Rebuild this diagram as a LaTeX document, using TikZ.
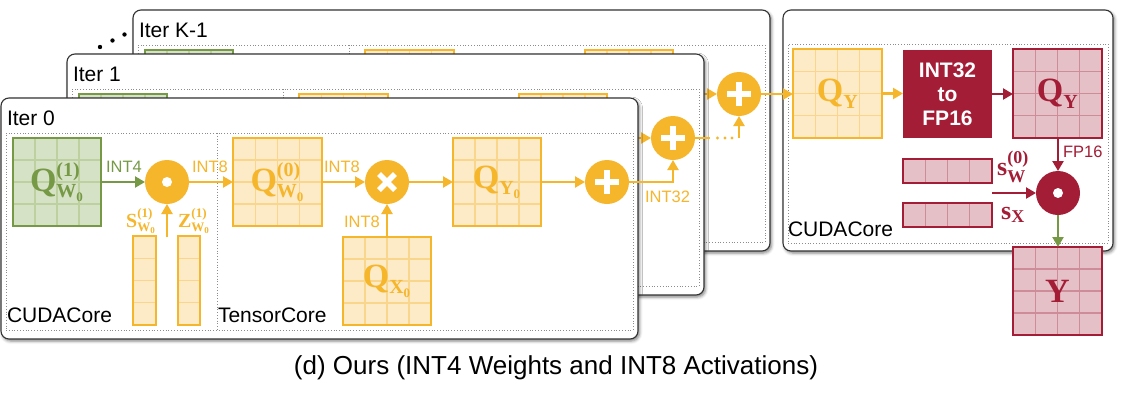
\documentclass[tikz,border=0pt]{standalone}
\usepackage{amsmath}
\usepackage{fontspec}
\setmainfont{Liberation Sans}
\newfontfamily\rmserif{Liberation Serif}
\usetikzlibrary{arrows.meta,calc,shadows.blur}
\definecolor{org}{RGB}{246,182,44}
\definecolor{orgfill}{RGB}{253,234,199}
\definecolor{orggrid}{RGB}{250,214,140}
\definecolor{grn}{RGB}{118,153,70}
\definecolor{grnfill}{RGB}{214,226,197}
\definecolor{grngrid}{RGB}{188,208,160}
\definecolor{dred}{RGB}{164,29,54}
\definecolor{redfill}{RGB}{229,192,199}
\definecolor{redgrid}{RGB}{206,140,152}
\DeclareMathSizes{34}{34}{20}{13}
\DeclareMathSizes{20}{20}{13}{9}
\DeclareMathSizes{26}{26}{18}{12}
\newcommand\sv[1]{\text{\rmserif\bfseries #1}}
\newcommand\bigQ{\fontsize{34}{36}\selectfont}
\newcommand\midS{\fontsize{20}{22}\selectfont}
\newcommand\smS{\fontsize{26}{28}\selectfont}
\newcommand\vlines[2]{\foreach \f in {0.25,0.5,0.75}{\draw[#2] ($(#1.north west)!\f!(#1.north east)$) -- ($(#1.south west)!\f!(#1.south east)$);}}
\newcommand\hlines[2]{\foreach \f in {0.25,0.5,0.75}{\draw[#2] ($(#1.north west)!\f!(#1.south west)$) -- ($(#1.north east)!\f!(#1.south east)$);}}
\newcommand\reborder[2]{\draw[#2] (#1.north west) rectangle (#1.south east);}
\newcommand\plussym[1]{\draw[white, line width=6pt] ($(#1)+(-12,0)$) -- ($(#1)+(12,0)$); \draw[white, line width=6pt] ($(#1)+(0,-12)$) -- ($(#1)+(0,12)$);}
\newcommand\crosssym[1]{\draw[white, line width=5.5pt] ($(#1)+(-8,-8)$) -- ($(#1)+(8,8)$); \draw[white, line width=5.5pt] ($(#1)+(-8,8)$) -- ($(#1)+(8,-8)$);}
\tikzset{
  every node/.style={inner sep=0pt, outer sep=0pt},
  panel/.style={draw=black!80, line width=1.1pt, fill=white, rounded corners=8pt,
    blur shadow={shadow xshift=1.5pt, shadow yshift=-2pt, shadow blur radius=3pt, shadow opacity=50}},
  dotbox/.style={draw=black!45, line width=0.8pt, dotted},
  dotline/.style={draw=black!45, line width=0.8pt, dotted},
  gcell/.style={draw=grn, fill=grnfill, line width=2.2pt},
  ocell/.style={draw=org, fill=orgfill, line width=2.2pt},
  rcell/.style={draw=dred, fill=redfill, line width=2.2pt},
  ggrid/.style={draw=grngrid, line width=1.4pt},
  ogrid/.style={draw=orggrid, line width=1.4pt},
  rgrid/.style={draw=redgrid, line width=1.4pt},
  gbord/.style={draw=grn, line width=2.2pt},
  obord/.style={draw=org, line width=2.2pt},
  rbord/.style={draw=dred, line width=2.2pt},
  ocirc/.style={circle, fill=org, minimum size=44pt},
  rcirc/.style={circle, fill=dred, minimum size=44pt},
  arrtip/.style={-{Triangle[length=10pt,width=11pt]}},
  oarr/.style={draw=org, line width=2.2pt, arrtip},
  garr/.style={draw=grn, line width=2.2pt, arrtip},
  rarr/.style={draw=dred, line width=2.2pt, arrtip},
  oline/.style={draw=org, line width=2.2pt},
  lbl/.style={font=\fontsize{16.5}{18}\selectfont},
  bigtxt/.style={font=\fontsize{21}{24}\selectfont},
}
\newcommand\panel[4]{%
\begin{scope}[shift={(#1,#2)}]
  \node[panel, minimum width=637pt, minimum height=241pt] (box#4) at (319.5,218.5) {};
  \node[dotbox, minimum width=627pt, minimum height=197pt] (in#4) at (319.5,231.5) {};
  \draw[dotline] (217,133) -- (217,330);
  \node[bigtxt, anchor=west] (lab#4) at (7,118) {#3};
  \node[bigtxt, anchor=west] (cuda#4) at (7,315) {CUDACore};
  \node[bigtxt, anchor=west] (tens#4) at (218,315) {TensorCore};
  % Q_W^(1)
  \node[gcell, minimum width=88pt, minimum height=88pt] (qw1#4) at (57,182) {};
  \vlines{qw1#4}{ggrid}\hlines{qw1#4}{ggrid}\reborder{qw1#4}{gbord}
  \node[text=grn, font=\bigQ] (qw1t#4) at (57,182) {$\sv{Q}^{\sv{(1)}}_{\sv{W}_{\sv{0}}}$};
  % odot
  \node[ocirc] (od#4) at (167,182) {};
  \fill[white] (od#4) circle (5pt);
  % S and Z columns
  \node[ocell, minimum width=23pt, minimum height=89pt] (sc#4) at (144.5,280.5) {};
  \hlines{sc#4}{ogrid}\reborder{sc#4}{obord}
  \node[ocell, minimum width=22pt, minimum height=89pt] (zc#4) at (189,280.5) {};
  \hlines{zc#4}{ogrid}\reborder{zc#4}{obord}
  \node[text=org, font=\midS] (sl#4) at (141,221) {$\sv{S}^{\sv{(1)}}_{\sv{W}_{\sv{0}}}$};
  \node[text=org, font=\midS] (zl#4) at (194,221) {$\sv{Z}^{\sv{(1)}}_{\sv{W}_{\sv{0}}}$};
  \coordinate (up#4) at (167,237);
  % Q_W^(0)
  \node[ocell, minimum width=89pt, minimum height=88pt] (qw0#4) at (277.5,182) {};
  \vlines{qw0#4}{ogrid}\hlines{qw0#4}{ogrid}\reborder{qw0#4}{obord}
  \node[text=org, font=\bigQ] (qw0t#4) at (277.5,182) {$\sv{Q}^{\sv{(0)}}_{\sv{W}_{\sv{0}}}$};
  % cross
  \node[ocirc] (cx#4) at (387,182) {};
  \crosssym{cx#4}
  % Q_X
  \node[ocell, minimum width=88pt, minimum height=88pt] (qx#4) at (387,281) {};
  \vlines{qx#4}{ogrid}\hlines{qx#4}{ogrid}\reborder{qx#4}{obord}
  \node[text=org, font=\bigQ] (qxt#4) at (387,281) {$\sv{Q}_{\sv{X}_{\sv{0}}}$};
  % Q_Y
  \node[ocell, minimum width=88pt, minimum height=88pt] (qy#4) at (497,182) {};
  \vlines{qy#4}{ogrid}\hlines{qy#4}{ogrid}\reborder{qy#4}{obord}
  \node[text=org, font=\bigQ] (qyt#4) at (497,182) {$\sv{Q}_{\sv{Y}_{\sv{0}}}$};
  % plus
  \node[ocirc] (pl#4) at (607,182) {};
  \plussym{pl#4}
  % arrows
  \draw[garr] (qw1#4.east) -- (od#4.west);
  \node[lbl, text=grn] (l1#4) at (124,167) {INT4};
  \draw[oarr] (up#4) -- (od#4.south);
  \draw[oarr] (od#4.east) -- (qw0#4.west);
  \node[lbl, text=org] (l2#4) at (210,167) {INT8};
  \draw[oarr] (qw0#4.east) -- (cx#4.west);
  \node[lbl, text=org] (l3#4) at (342,167) {INT8};
  \draw[oarr] (qx#4.north) -- (cx#4.south);
  \node[lbl, text=org] (l4#4) at (362,222) {INT8};
  \draw[oarr] (cx#4.east) -- (qy#4.west);
  \draw[oarr] (qy#4.east) -- (pl#4.west);
\end{scope}}
\begin{document}
\begin{tikzpicture}[x=1pt, y=-1pt]
\useasboundingbox (0,0) rectangle (1148,400);
\panel{132}{-88}{Iter K-1}{c}
\panel{66}{-44}{Iter 1}{b}
\panel{0}{0}{Iter 0}{a}
% dots
\fill (100,47) circle (2.2pt);
\fill (112.5,40.5) circle (2.2pt);
\fill (124.5,34.5) circle (2.2pt);
% right panel
\node[panel, minimum width=330pt, minimum height=241pt] (rbox) at (948,130.5) {};
\node[dotbox, minimum width=320pt, minimum height=199pt] (rin) at (948,143.5) {};
\node[bigtxt, anchor=west] (rcuda) at (788,229) {CUDACore};
\node[ocell, minimum width=89pt, minimum height=89pt] (qyo) at (837.5,93.5) {};
\vlines{qyo}{ogrid}\hlines{qyo}{ogrid}\reborder{qyo}{obord}
\node[text=org, font=\bigQ] (qyot) at (837.5,93.5) {$\sv{Q}_{\sv{Y}}$};
\node[fill=dred, minimum width=89pt, minimum height=88pt, text=white, align=center,
  font=\bfseries\fontsize{21}{24}\selectfont] (conv) at (947.5,94) {INT32\\to\\FP16};
\node[rcell, minimum width=89pt, minimum height=89pt] (qyr) at (1057.5,93.5) {};
\vlines{qyr}{rgrid}\hlines{qyr}{rgrid}\reborder{qyr}{rbord}
\node[text=dred, font=\bigQ] (qyrt) at (1057.5,93.5) {$\sv{Q}_{\sv{Y}}$};
\node[rcirc] (odr) at (1058,193) {};
\fill[white] (odr) circle (5pt);
\node[rcell, minimum width=89pt, minimum height=24pt] (sw) at (947.5,171) {};
\vlines{sw}{rgrid}\reborder{sw}{rbord}
\node[rcell, minimum width=89pt, minimum height=24pt] (sx) at (947.5,215) {};
\vlines{sx}{rgrid}\reborder{sx}{rbord}
\node[text=dred, font=\smS] (swl) at (1013,167) {$\sv{s}^{\sv{(0)}}_{\sv{W}}$};
\node[text=dred, font=\smS] (sxl) at (1013,215) {$\sv{s}_{\sv{X}}$};
\node[rcell, minimum width=89pt, minimum height=88pt] (yb) at (1057.5,291) {};
\vlines{yb}{rgrid}\hlines{yb}{rgrid}\reborder{yb}{rbord}
\node[text=dred, font=\bigQ] (ybt) at (1057.5,291) {\rmserif\bfseries Y};
\coordinate (sin) at (992,193);
\draw[oarr] (qyo.east) -- (qyo.east -| conv.west);
\draw[rarr] (conv.east) -- (conv.east -| qyr.west);
\draw[rarr] (qyr.south -| odr.north) -- (odr.north);
\node[lbl, text=dred, anchor=west] (fp) at (1063,152) {FP16};
\draw[rarr] (sin) -- (odr.west);
\draw[garr] (odr.south) -- (yb.north -| odr.south);
% connectors between iterations
\draw[oarr] (pla.east) -| (plb.south);
\node[lbl, text=org] (i32) at (667.5,197) {INT32};
\coordinate (d1) at (710,138);
\coordinate (d2) at (739,138);
\draw[oline] (plb.east) -- (d1);
\fill[org] (717.5,138) circle (1.6pt);
\fill[org] (725,138) circle (1.6pt);
\fill[org] (732,138) circle (1.6pt);
\draw[oarr] (d2) -- (plc.south);
\draw[oarr] (plc.east) -- (plc.east -| qyo.west);
% caption
\node[font=\fontsize{26}{30}\selectfont] (cap) at (556,368) {(d) Ours (INT4 Weights and INT8 Activations)};
\end{tikzpicture}
\end{document}
